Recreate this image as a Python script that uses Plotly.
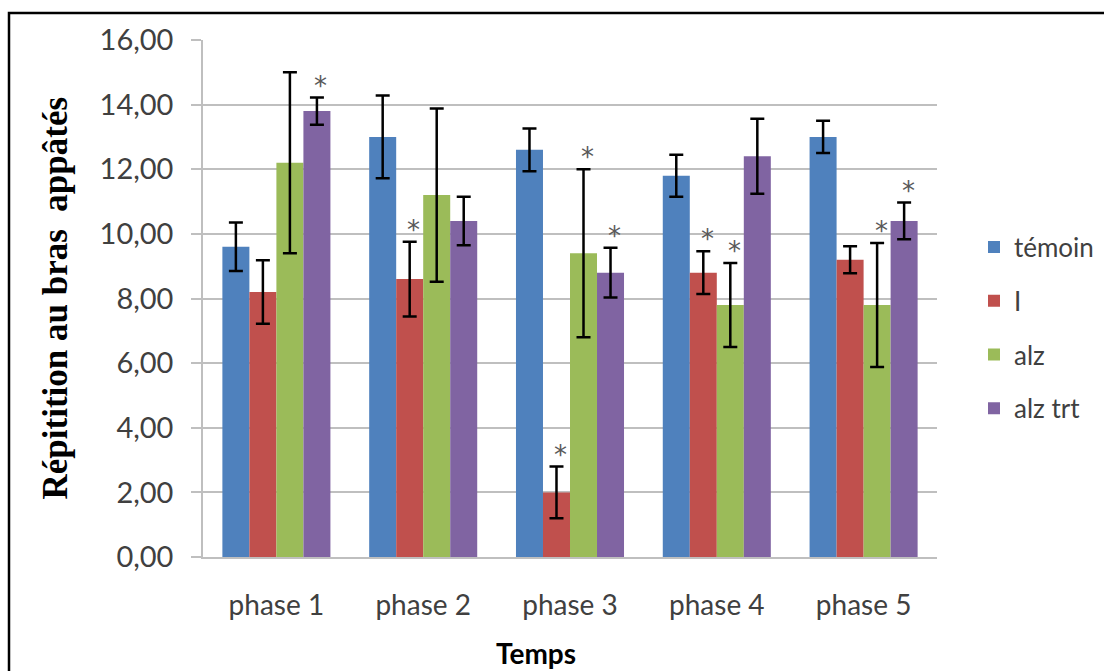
import plotly.graph_objects as go

categories = ["phase 1", "phase 2", "phase 3", "phase 4", "phase 5"]
series_names = ["témoin", "I", "alz", "alz trt"]

temoin = [9.6, 13.0, 12.6, 11.8, 13.0]
temoin_err = [0.75, 1.28, 0.66, 0.65, 0.5]
groupe_i = [8.2, 8.6, 2.0, 8.8, 9.2]
groupe_i_err = [0.98, 1.16, 0.8, 0.66, 0.42]
alz = [12.2, 11.2, 9.4, 7.8, 7.8]
alz_err = [2.8, 2.68, 2.6, 1.3, 1.92]
alz_trt = [13.8, 10.4, 8.8, 12.4, 10.4]
alz_trt_err = [0.42, 0.75, 0.77, 1.16, 0.57]

# significance marks (*) per series
temoin_sig = [False, False, False, False, False]
groupe_i_sig = [False, True, True, True, False]
alz_sig = [False, False, True, True, True]
alz_trt_sig = [True, False, True, False, True]

tick_vals = [0, 2, 4, 6, 8, 10, 12, 14, 16]
tick_text = ["0,00", "2,00", "4,00", "6,00", "8,00", "10,00", "12,00", "14,00", "16,00"]

colors = ["#4F81BD", "#C0504D", "#9BBB59", "#8064A2"]

values = [temoin, groupe_i, alz, alz_trt]
errors = [temoin_err, groupe_i_err, alz_err, alz_trt_err]
sigs = [temoin_sig, groupe_i_sig, alz_sig, alz_trt_sig]

W, H = 1104, 671
ml, mr, mt, mb = 203, 167, 40, 114
plot_w = W - ml - mr
plot_h = H - mt - mb
bargap = 0.264

fig = go.Figure()
for k in range(4):
    fig.add_trace(go.Bar(
        x=categories, y=values[k], name=series_names[k],
        marker=dict(color=colors[k], line=dict(width=0)),
        error_y=dict(type="data", array=errors[k], visible=True,
                     color="#000000", thickness=2.5, width=7),
        legendgroup=series_names[k],
    ))

# asterisks
bar_px = plot_w / len(categories) * (1 - bargap) / 4
annotations = []
for k in range(4):
    for i, c in enumerate(categories):
        if sigs[k][i]:
            annotations.append(dict(
                x=c, y=values[k][i] + errors[k][i], xref="x", yref="y",
                text="*", showarrow=False,
                xshift=(k - 1.5) * bar_px + 4, yshift=12,
                yanchor="middle",
                font=dict(family="DejaVu Sans", size=26, color="#595959"),
            ))

annotations.append(dict(
    x=(536 - ml) / plot_w, y=(H - mb - 653) / plot_h, xref="paper", yref="paper",
    text="<b>Temps</b>", showarrow=False, xanchor="center", yanchor="middle",
    font=dict(family="Lato", size=28, color="#000000"),
))
annotations.append(dict(
    x=(55 - ml) / plot_w, y=0.5, xref="paper", yref="paper",
    text="<b>Répitition au bras\u00a0\u00a0appâtés</b>", showarrow=False,
    textangle=-90, xanchor="center", yanchor="middle",
    font=dict(family="Liberation Serif", size=35, color="#000000"),
))

fig.update_layout(
    width=W, height=H,
    margin=dict(l=ml, r=mr, t=mt, b=mb, autoexpand=False),
    paper_bgcolor="white", plot_bgcolor="white",
    barmode="group", bargap=bargap, bargroupgap=0,
    showlegend=True,
    legend=dict(xref="container", yref="container",
                x=974 / W, y=1 - 328 / H,
                xanchor="left", yanchor="middle",
                font=dict(family="Lato", size=26, color="#404040"),
                tracegroupgap=17, traceorder="grouped",
                bgcolor="rgba(0,0,0,0)"),
    annotations=annotations,
    shapes=[dict(type="rect", xref="paper", yref="paper",
                 x0=(9 - ml) / plot_w, x1=(1120 - ml) / plot_w,
                 y0=(H - mb - 690) / plot_h, y1=(H - mb - 13) / plot_h,
                 line=dict(color="#000000", width=2.5), layer="below")],
    font=dict(family="Lato", color="#404040"),
)
fig.update_xaxes(
    showgrid=False, showline=True, linecolor="#BFBFBF", linewidth=2,
    ticks="", tickfont=dict(family="Lato", size=28, color="#404040"),
    ticklabelstandoff=22,
)
fig.update_yaxes(
    range=[0, 16], tickvals=tick_vals, ticktext=tick_text,
    showgrid=True, gridcolor="#BFBFBF", gridwidth=1.5,
    showline=True, linecolor="#BFBFBF", linewidth=1.5,
    ticks="outside", ticklen=10, tickcolor="#BFBFBF", tickwidth=1.5,
    tickfont=dict(family="Lato", size=29, color="#404040"),
    ticklabelstandoff=12,
    zeroline=False,
)

fig.write_html("out.html")
